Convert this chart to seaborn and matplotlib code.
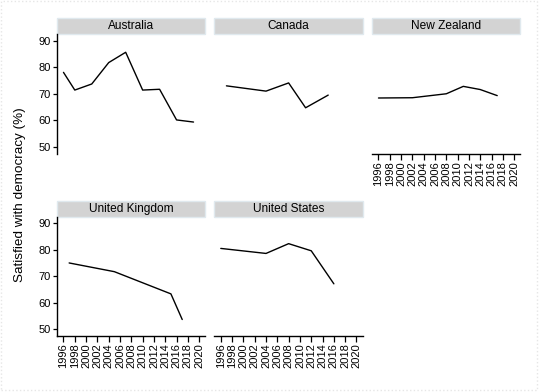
import pandas as pd
import matplotlib
matplotlib.use("Agg")
import matplotlib.pyplot as plt
import seaborn as sns
from matplotlib.patches import Rectangle

# Data
aus_years = [1996, 1998, 2001, 2004, 2007, 2010, 2013, 2016, 2019]
aus_vals = [78.1, 71.4, 73.7, 81.8, 85.7, 71.4, 71.7, 60.1, 59.3]
can_years = [1997, 2004, 2008, 2011, 2015]
can_vals = [73.0, 71.0, 74.1, 64.7, 69.5]
nz_years = [1996, 2002, 2008, 2011, 2014, 2017]
nz_vals = [68.4, 68.5, 70.0, 72.8, 71.6, 69.3]
uk_years = [1997, 2005, 2015, 2017]
uk_vals = [75.0, 71.7, 63.3, 53.6]
us_years = [1996, 2004, 2008, 2012, 2016]
us_vals = [80.5, 78.6, 82.3, 79.6, 67.1]

countries = ["Australia", "Canada", "New Zealand", "United Kingdom", "United States"]
year_lists = [aus_years, can_years, nz_years, uk_years, us_years]
val_lists = [aus_vals, can_vals, nz_vals, uk_vals, us_vals]

rows = []
for c, ys, vs in zip(countries, year_lists, val_lists):
    for y, v in zip(ys, vs):
        rows.append({"country": c, "year": y, "sat": v})
df = pd.DataFrame(rows)

sns.set_theme(style="white")
plt.rcParams["font.family"] = ["Liberation Sans", "DejaVu Sans"]

g = sns.relplot(data=df, x="year", y="sat", col="country", col_order=countries,
                col_wrap=3, kind="line", color="black", linewidth=1,
                height=2, aspect=1.2, facet_kws=dict(sharex=True, sharey=True))
fig = g.figure
fig.set_size_inches(5.39, 3.92)
W, H = 539.0, 392.0
g.set_titles("")
g.set_axis_labels("", "")

col_left = [56.7, 214.0, 371.7]
row_top = [34.3, 216.7]
ax_w, ax_h = 148.7, 119.2
strip_h = 16.0

for i, (ax, name) in enumerate(zip(g.axes.flat, countries)):
    r, c = divmod(i, 3)
    ax.set_position([col_left[c] / W, 1 - (row_top[r] + ax_h) / H, ax_w / W, ax_h / H])
    ax.set_xlim(1994.8, 2021.1)
    ax.set_ylim(47.4, 92.5)
    ax.set_xticks(range(1996, 2021, 2))
    ax.set_yticks([50, 60, 70, 80, 90])
    for s in ["top", "right"]:
        ax.spines[s].set_visible(False)
    ax.tick_params(axis="y", length=3, width=0.9, color="black", labelcolor="black",
                   labelsize=8, pad=1.5)
    ax.tick_params(axis="x", length=4, width=0.9, color="black", labelcolor="black",
                   labelsize=8, pad=1.5, labelrotation=90)
    # x axis only where nothing sits below
    if name in ["Australia", "Canada"]:
        ax.spines["bottom"].set_visible(False)
        ax.tick_params(axis="x", bottom=False, labelbottom=False)
    else:
        ax.spines["bottom"].set_visible(True)
        ax.spines["bottom"].set_color("black")
        ax.spines["bottom"].set_linewidth(1)
        ax.tick_params(axis="x", bottom=True, labelbottom=True)
    if c == 0:
        ax.spines["left"].set_visible(True)
        ax.spines["left"].set_color("black")
        ax.spines["left"].set_linewidth(1)
        ax.tick_params(axis="y", left=True, labelleft=True)
    else:
        ax.spines["left"].set_visible(False)
        ax.tick_params(axis="y", left=False, labelleft=False)
    # grey strip header
    ax.add_patch(Rectangle((0, 1), 1, strip_h / ax_h, transform=ax.transAxes,
                           facecolor="#d3d3d3", edgecolor="#e0e9ee", lw=1, clip_on=False))
    ax.text(0.5, 1 + strip_h / ax_h / 2, name, transform=ax.transAxes,
            ha="center", va="center", fontsize=8.6, color="black")

fig.text(20 / W, 1 - 195 / H, "Satisfied with democracy (%)", rotation=90,
         ha="center", va="center", fontsize=9.7, color="black")

fig.patches.append(Rectangle((0.002, 0.004), 0.995, 0.994, transform=fig.transFigure,
                             fill=False, edgecolor="#e6e6e6", lw=1, linestyle=":"))

fig.savefig("out.png", dpi=100)
